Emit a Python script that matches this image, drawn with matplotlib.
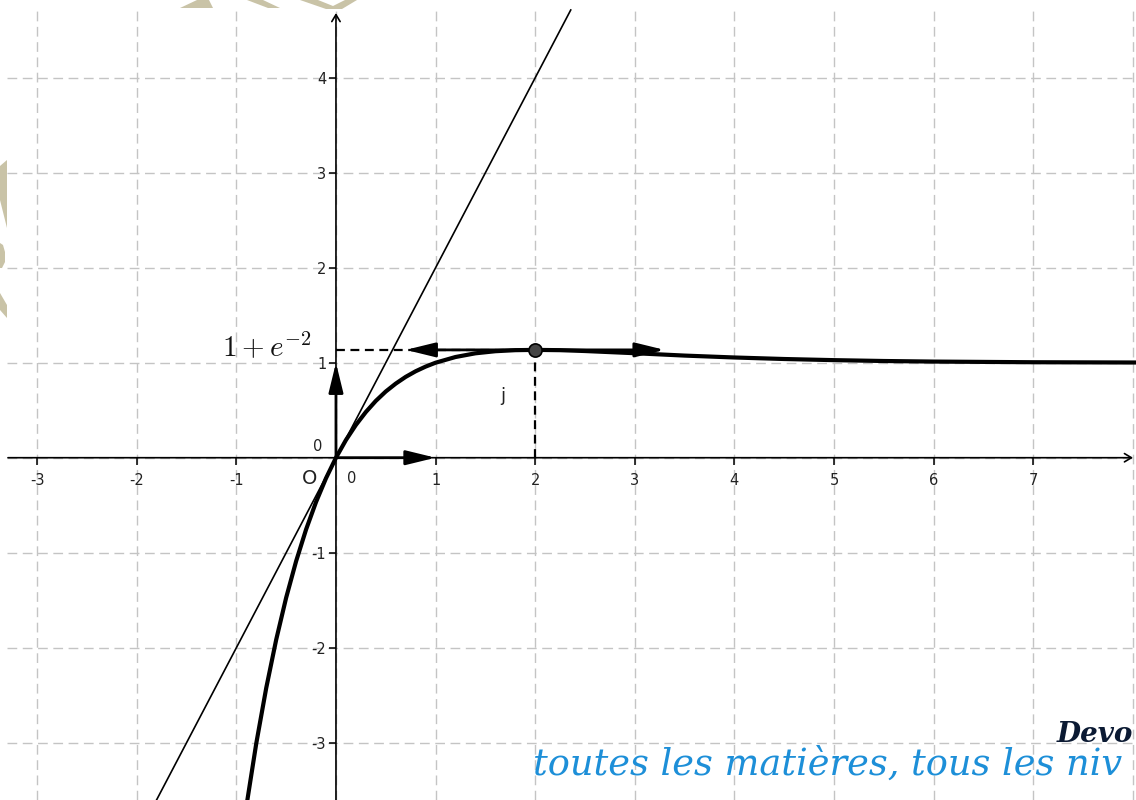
import numpy as np
import matplotlib
matplotlib.use('Agg')
import matplotlib.pyplot as plt
from matplotlib.patches import Polygon
from matplotlib.transforms import IdentityTransform

plt.rcParams['mathtext.fontset'] = 'cm'
plt.rcParams['axes.unicode_minus'] = False

#curve f(x) points
curve_x = [-0.9, -0.8, -0.7, -0.6, -0.5, -0.4, -0.3, -0.2, -0.1, 0.0,
           0.1, 0.2, 0.3, 0.4, 0.5, 0.6, 0.7, 0.8, 0.9, 1.0,
           1.2, 1.4, 1.6, 1.8, 2.0, 2.25, 2.5, 3.0, 3.5, 4.0,
           4.5, 5.0, 5.5, 6.0, 7.0, 8.1]
curve_y = [-3.673, -3.006, -2.423, -1.915, -1.473, -1.089, -0.755, -0.466, -0.216, 0.0,
           0.186, 0.345, 0.481, 0.598, 0.697, 0.780, 0.851, 0.910, 0.959, 1.0,
           1.060, 1.099, 1.121, 1.132, 1.135, 1.132, 1.123, 1.100, 1.075, 1.055,
           1.039, 1.027, 1.018, 1.012, 1.005, 1.002]

#tangent at the origin (stops at the top of the drawing area)
tangent_x = [-2.0, 2.357]
tangent_y = [-4.0, 4.713]

#maximum point
max_x = 2.0
max_y = 1.135
left_arrow_x = 0.7
right_arrow_x = 3.3

#ticks
x_ticks = [-3, -2, -1, 1, 2, 3, 4, 5, 6, 7]
x_labels = ['-3', '-2', '-1', '1', '2', '3', '4', '5', '6', '7']
y_ticks = [-3, -2, -1, 1, 2, 3, 4]
y_labels = ['-3', '-2', '-1', '1', '2', '3', '4']
grid_x = list(range(-3, 9))
grid_y = list(range(-3, 5))

#view window
xlo, xhi = -3.373, 8.032
ylo, yhi = -3.603, 4.818

fig = plt.figure(figsize=(11.36, 8), dpi=100)
ax = fig.add_axes([0, 0, 1, 1])
ax.set_xlim(xlo, xhi)
ax.set_ylim(ylo, yhi)
ax.set_facecolor('white')

#dashed grid
ax.vlines(grid_x, ylo, 4.713, colors='#c4c4c4', linewidth=1.0, linestyles=(0, (7, 4)), zorder=0)
ax.hlines(grid_y, -3.303, xhi, colors='#c4c4c4', linewidth=1.0, linestyles=(0, (7, 4)), zorder=0)

#axes with arrows
for s in ax.spines.values():
    s.set_visible(False)
ax.spines['left'].set_position(('data', 0))
ax.spines['bottom'].set_position(('data', 0))
ax.annotate('', xy=(8.002, 0), xytext=(-3.293, 0),
            arrowprops=dict(arrowstyle='->,head_length=0.5,head_width=0.3', lw=1.2,
                            color='black', shrinkA=0, shrinkB=0, mutation_scale=10), zorder=2)
ax.annotate('', xy=(0, 4.681), xytext=(0, ylo - 0.1),
            arrowprops=dict(arrowstyle='->,head_length=0.5,head_width=0.3', lw=1.2,
                            color='black', shrinkA=0, shrinkB=0, mutation_scale=10), zorder=2)

ax.set_xticks(x_ticks)
ax.set_xticklabels(x_labels)
ax.set_yticks(y_ticks)
ax.set_yticklabels(y_labels)
ax.xaxis.set_ticks_position('bottom')
ax.yaxis.set_ticks_position('left')
ax.tick_params(axis='both', direction='out', length=5, width=1.1, color='black',
               labelsize=10.5, labelcolor='#222222')
ax.tick_params(axis='x', pad=6)
ax.tick_params(axis='y', pad=2)

#origin labels
ax.text(0.161, -0.214, '0', fontsize=10.5, color='#222222', ha='center', va='center')
ax.text(-0.18, 0.113, '0', fontsize=10.5, color='#222222', ha='center', va='center')
ax.text(-0.261, -0.224, 'O', fontsize=14, color='#222222', ha='center', va='center')

#tangent and curve
ax.plot(tangent_x, tangent_y, color='black', lw=1.2, zorder=3)
ax.plot(curve_x, curve_y, color='black', lw=3.0, solid_capstyle='round', zorder=4)

#dashed guides to the maximum
ax.plot([0, max_x], [max_y, max_y], color='black', lw=1.6, ls=(0, (4, 2.5)), zorder=3)
ax.plot([max_x, max_x], [0, max_y], color='black', lw=1.6, ls=(0, (4, 2.5)), zorder=3)

#vectors i, j and horizontal arrows
vec_style = '-|>,head_length=0.9,head_width=0.22'
for tip, tail in [((1, 0), (0, 0)), ((0, 1), (0, 0)),
                  ((left_arrow_x, max_y), (max_x, max_y)), ((right_arrow_x, max_y), (max_x, max_y))]:
    ax.annotate('', xy=tip, xytext=tail,
                arrowprops=dict(arrowstyle=vec_style, mutation_scale=20, lw=2.0,
                                color='black', shrinkA=0, shrinkB=0), zorder=5)

ax.plot(max_x, max_y, 'o', ms=9.5, mfc='#444444', mec='black', mew=1.2, zorder=6)

ax.text(-0.241, 1.071, r'$1+e^{-2}$', fontsize=21, ha='right', va='baseline', color='#111111')
ax.text(1.677, 0.649, 'j', fontsize=13, ha='center', va='center', color='#222222')

#watermark pieces (image pixel coords)
H = 800
shapes = [
    [(180, 8), (197, 0), (209, 0), (213, 8)],
    [(247, 0), (263, 0), (280, 8), (268, 8)],
    [(300, 0), (318, 0), (333, 6), (345, 0), (357, 0), (342, 9), (326, 9)],
    [(0, 166), (7, 160), (7, 228), (0, 200)],
    [(0, 243), (3, 245), (5, 252), (5, 262), (2, 268), (0, 268)],
    [(0, 293), (7, 305), (7, 318), (0, 310)],
]
for pts in shapes:
    poly = Polygon([(px, H - py) for px, py in pts], closed=True, facecolor='#c9c3a7',
                   edgecolor='none', transform=IdentityTransform(), zorder=1)
    fig.patches.append(poly)

#visible part of the watermark text at the bottom right
fig.text(1057 / 1136, 1 - 742 / 800, 'Devo', ha='left', va='baseline',
         family='DejaVu Serif', weight='bold', style='italic', fontsize=20, color='#0b1a33')
fig.text(533 / 1136, 1 - 775 / 800, 'toutes les matières, tous les niv', ha='left',
         va='baseline', family='DejaVu Serif', style='italic', fontsize=26.5, color='#1d8fd8')

fig.savefig('out.png', dpi=100)
